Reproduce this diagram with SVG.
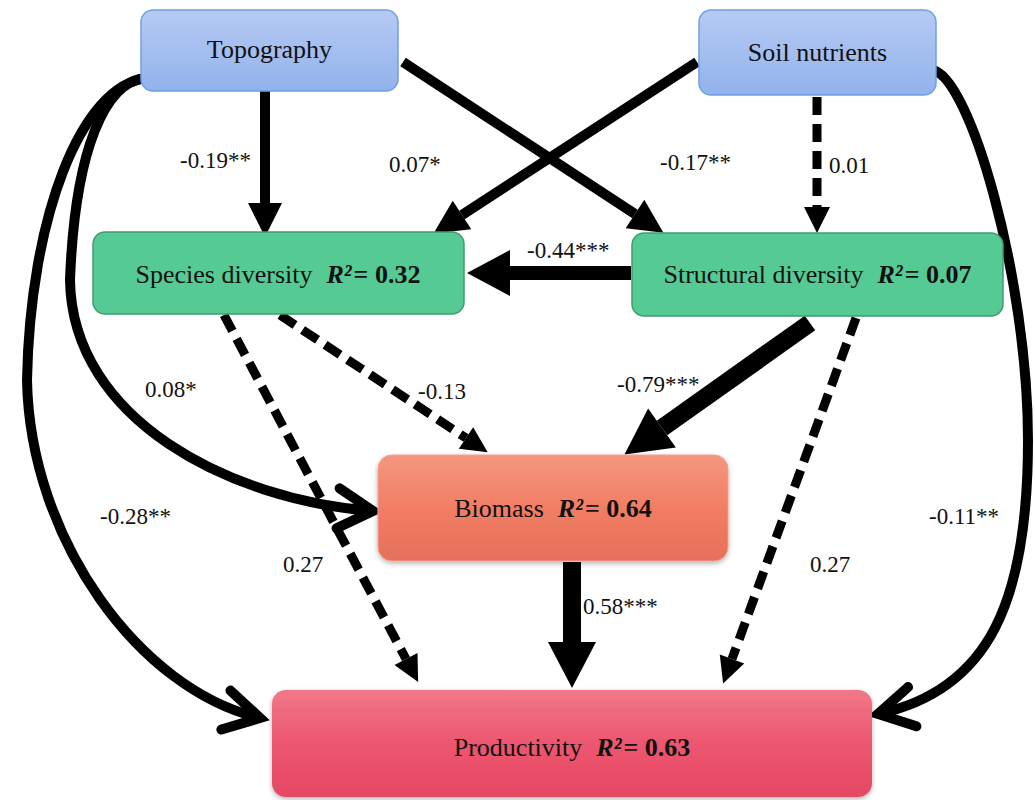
<svg xmlns="http://www.w3.org/2000/svg" width="1035" height="800" viewBox="0 0 1035 800">
<style>
.box-t{font-family:"Liberation Serif","Times New Roman",serif;font-size:26px;fill:#111;}
.r2{font-weight:bold;}
.lbl{font-family:"Liberation Serif","Times New Roman",serif;font-size:23px;fill:#111;}
.solid{fill:none;stroke:#000;stroke-linecap:butt;}
.dash{fill:none;stroke:#000;stroke-width:9;stroke-dasharray:18 9;}
</style>
<defs>
<linearGradient id="gBlue" x1="0" y1="0" x2="0" y2="1">
<stop offset="0" stop-color="#b6caf3"/><stop offset="1" stop-color="#92b2ec"/>
</linearGradient>
<linearGradient id="gBio" x1="0" y1="0" x2="0" y2="1">
<stop offset="0" stop-color="#f4977f"/><stop offset="0.5" stop-color="#f17e64"/><stop offset="1" stop-color="#e5705a"/>
</linearGradient>
<linearGradient id="gProd" x1="0" y1="0" x2="0" y2="1">
<stop offset="0" stop-color="#f17888"/><stop offset="0.5" stop-color="#ed5670"/><stop offset="1" stop-color="#e54862"/>
</linearGradient>
<filter id="shadow" x="-5%" y="-10%" width="110%" height="130%">
<feDropShadow dx="0" dy="2" stdDeviation="2.5" flood-color="#000" flood-opacity="0.3"/>
</filter>
<marker id="triM" markerUnits="userSpaceOnUse" markerWidth="36" markerHeight="36" viewBox="0 -18 36 36" refX="0" refY="0" orient="auto" overflow="visible">
<path d="M0,-17 L34,0 L0,17 z" fill="#000"/>
</marker>
<marker id="triS" markerUnits="userSpaceOnUse" markerWidth="30" markerHeight="30" viewBox="0 -15 30 30" refX="0" refY="0" orient="auto" overflow="visible">
<path d="M0,-13 L26,0 L0,13 z" fill="#000"/>
</marker>
<marker id="triL" markerUnits="userSpaceOnUse" markerWidth="50" markerHeight="50" viewBox="0 -25 50 50" refX="0" refY="0" orient="auto" overflow="visible">
<path d="M0,-23 L43,0 L0,23 z" fill="#000"/>
</marker>
<marker id="triXL" markerUnits="userSpaceOnUse" markerWidth="50" markerHeight="50" viewBox="0 -25 50 50" refX="0" refY="0" orient="auto" overflow="visible">
<path d="M0,-24 L46,0 L0,24 z" fill="#000"/>
</marker>
<marker id="chev" markerUnits="userSpaceOnUse" markerWidth="50" markerHeight="50" viewBox="-45 -25 50 50" refX="0" refY="0" orient="auto" overflow="visible">
<path d="M-35,-20 L0,0 L-35,20" fill="none" stroke="#000" stroke-width="10" stroke-linejoin="miter" stroke-linecap="round"/>
</marker>
</defs>

<g id="connectors">
<path class="solid" d="M265,91 L265,203" stroke-width="10" marker-end="url(#triM)"/>
<path class="solid" d="M403,62 L635,214" stroke-width="10" marker-end="url(#triM)"/>
<path class="solid" d="M697,62 L462,215" stroke-width="10" marker-end="url(#triM)"/>
<path class="dash" d="M817,97 L817,207" marker-end="url(#triS)"/>
<path class="solid" d="M631,273 L510,273" stroke-width="14" marker-end="url(#triL)"/>
<path class="dash" d="M280,315 L466,438" marker-end="url(#triS)"/>
<path class="dash" d="M224,315 L406,659" marker-end="url(#triS)"/>
<path class="solid" d="M810,323 L662,428" stroke-width="18" marker-end="url(#triXL)"/>
<path class="dash" d="M856,318 L732,659" marker-end="url(#triS)"/>
<path class="solid" d="M572,562 L572,642" stroke-width="18" marker-end="url(#triXL)"/>
<path class="solid" d="M147,78 C105,80 75,150 70,280 C72,420 230,500 373,511" stroke-width="10" marker-end="url(#chev)"/>
<path class="solid" d="M147,78 C80,85 30,220 27,380 C30,540 140,690 260,718" stroke-width="10" marker-end="url(#chev)"/>
<path class="solid" d="M932,70 C970,75 1028,280 1028,440 C1028,600 990,690 878,714" stroke-width="10" marker-end="url(#chev)"/>
</g>

<g id="labels">
<text class="lbl" x="180" y="168">-0.19**</text>
<text class="lbl" x="389" y="172">0.07*</text>
<text class="lbl" x="660" y="170">-0.17**</text>
<text class="lbl" x="829" y="173">0.01</text>
<text class="lbl" x="527" y="258">-0.44***</text>
<text class="lbl" x="145" y="397">0.08*</text>
<text class="lbl" x="418" y="399">-0.13</text>
<text class="lbl" x="617" y="392">-0.79***</text>
<text class="lbl" x="100" y="524">-0.28**</text>
<text class="lbl" x="283" y="572">0.27</text>
<text class="lbl" x="583" y="614">0.58***</text>
<text class="lbl" x="810" y="572">0.27</text>
<text class="lbl" x="929" y="524">-0.11**</text>
</g>

<g id="node-topography">
<rect x="141" y="10" width="257" height="81" rx="12" fill="url(#gBlue)" stroke="#6f9fe6" stroke-width="1.5"/>
<text class="box-t" x="269.5" y="58" text-anchor="middle">Topography</text>
</g>
<g id="node-soil">
<rect x="699" y="10" width="237" height="85" rx="12" fill="url(#gBlue)" stroke="#6f9fe6" stroke-width="1.5"/>
<text class="box-t" x="817.5" y="61" text-anchor="middle">Soil nutrients</text>
</g>
<g id="node-species">
<rect x="93" y="232" width="371" height="82" rx="12" fill="#55ca95" stroke="#3f9c6c" stroke-width="1.5"/>
<text class="box-t" x="278" y="283" text-anchor="middle">Species diversity<tspan class="r2" font-style="italic" dx="14">R²</tspan><tspan class="r2" dx="2">= 0.32</tspan></text>
</g>
<g id="node-structural">
<rect x="632" y="233" width="371" height="83" rx="12" fill="#55ca95" stroke="#3f9c6c" stroke-width="1.5"/>
<text class="box-t" x="817.5" y="283" text-anchor="middle">Structural diversity<tspan class="r2" font-style="italic" dx="14">R²</tspan><tspan class="r2" dx="2">= 0.07</tspan></text>
</g>
<g id="node-biomass">
<rect x="378" y="455" width="350" height="106" rx="14" fill="url(#gBio)" stroke="#f2a08c" stroke-width="1" filter="url(#shadow)"/>
<text class="box-t" x="553" y="517" text-anchor="middle">Biomass<tspan class="r2" font-style="italic" dx="14">R²</tspan><tspan class="r2" dx="2">= 0.64</tspan></text>
</g>
<g id="node-productivity">
<rect x="272" y="690" width="600" height="107" rx="14" fill="url(#gProd)" filter="url(#shadow)"/>
<text class="box-t" x="572" y="756" text-anchor="middle">Productivity<tspan class="r2" font-style="italic" dx="14">R²</tspan><tspan class="r2" dx="2">= 0.63</tspan></text>
</g>
</svg>
